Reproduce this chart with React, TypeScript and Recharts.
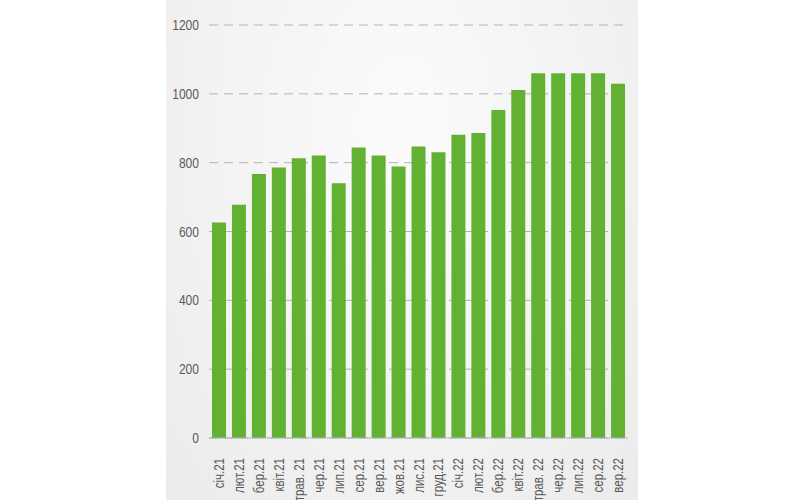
import React from 'react';
import { BarChart, Bar, XAxis, YAxis, CartesianGrid } from 'recharts';

const months = [
  'січ.21', 'лют.21', 'бер.21', 'квіт.21', 'трав. 21', 'чер.21', 'лип.21',
  'сер.21', 'вер.21', 'жов.21', 'лис.21', 'груд.21', 'січ.22', 'лют.22',
  'бер.22', 'квіт.22', 'трав. 22', 'чер.22', 'лип.22', 'сер.22', 'вер.22',
];

const values = [
  626, 678, 767, 786, 813, 821, 740, 844, 821, 789, 847,
  830, 881, 886, 953, 1011, 1060, 1060, 1060, 1060, 1029,
];

const yTicks = [0, 200, 400, 600, 800, 1000, 1200];

const data = months.map((m, i) => ({ name: m, value: values[i] }));

const FONT = '"Liberation Sans", Arial, sans-serif';
const TEXT = '#5a5a5a';

// rotated month label, reads bottom to top, squeezed to look condensed
const MonthTick = (props: any) => {
  const { x, y, payload } = props;
  return (
    <text
      x={0}
      y={0}
      transform={`translate(${x},${y + 12}) rotate(-90) scale(0.82,1)`}
      textAnchor="end"
      dy="0.36em"
      fill={TEXT}
      fontSize={14}
      fontFamily={FONT}
    >
      {payload.value}
    </text>
  );
};

const ValueTick = (props: any) => {
  const { x, y, payload } = props;
  return (
    <text
      x={0}
      y={0}
      transform={`translate(${x},${y}) scale(0.86,1)`}
      textAnchor="end"
      dy="0.36em"
      fill={TEXT}
      fontSize={14}
      fontFamily={FONT}
    >
      {payload.value}
    </text>
  );
};

export default function App() {
  return (
    <div style={{ position: 'absolute', left: 0, top: 0, width: 805, height: 500, background: '#fff' }}>
      <div
        style={{
          position: 'absolute',
          left: 166,
          top: 0,
          width: 472,
          height: 500,
          background: 'radial-gradient(ellipse at 50% 25%, #fbfbfb 0%, #f3f3f3 55%, #ebebeb 100%)',
        }}
      />
      <div style={{ position: 'absolute', left: 0, top: 0 }}>
        <BarChart
          width={805}
          height={500}
          data={data}
          margin={{ top: 25, right: 177, left: 0, bottom: 0 }}
          barSize={14}
        >
          <CartesianGrid vertical={false} stroke="#b4b4b4" strokeDasharray="9 6" />
          <XAxis
            dataKey="name"
            interval={0}
            height={62}
            tickLine={false}
            axisLine={{ stroke: '#a9b6c0' }}
            tick={<MonthTick />}
          />
          <YAxis
            width={209}
            domain={[0, 1200]}
            ticks={yTicks}
            axisLine={false}
            tickLine={false}
            tickSize={0}
            tickMargin={10}
            tick={<ValueTick />}
          />
          <Bar dataKey="value" fill="#62b133" isAnimationActive={false} />
        </BarChart>
      </div>
    </div>
  );
}
